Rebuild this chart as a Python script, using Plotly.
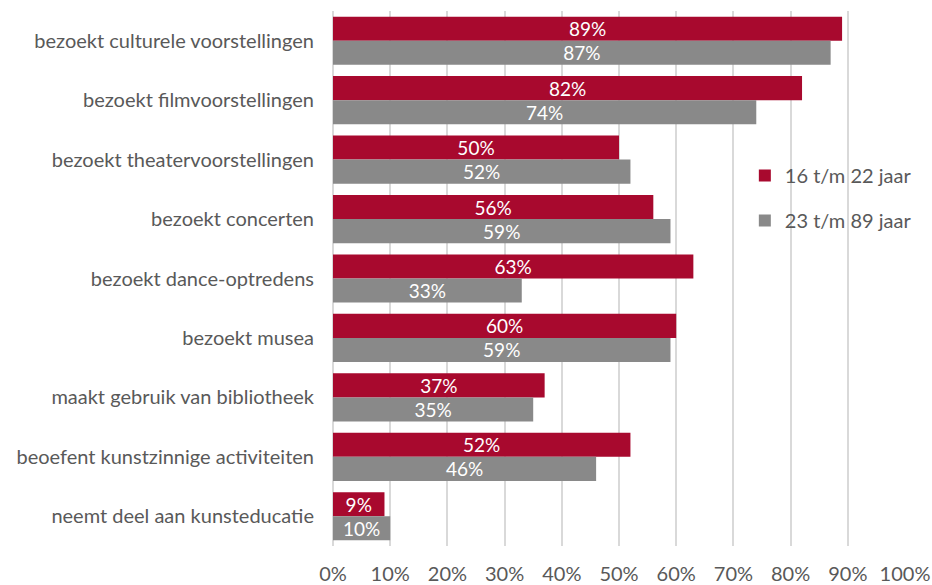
import plotly.graph_objects as go

# categories top to bottom
categories = [
    "bezoekt culturele voorstellingen",
    "bezoekt filmvoorstellingen",
    "bezoekt theatervoorstellingen",
    "bezoekt concerten",
    "bezoekt dance-optredens",
    "bezoekt musea",
    "maakt gebruik van bibliotheek",
    "beoefent kunstzinnige activiteiten",
    "neemt deel aan kunsteducatie",
]
young = [89, 82, 50, 56, 63, 60, 37, 52, 9]
older = [87, 74, 52, 59, 33, 59, 35, 46, 10]
series_names = ["16 t/m 22 jaar", "23 t/m 89 jaar"]
tick_vals = [0, 10, 20, 30, 40, 50, 60, 70, 80, 90, 100]
tick_text = [f"{v}%" for v in tick_vals]

RED = "#A8092E"
GREY = "#898989"
TEXT = "#595959"
FONT = "Lato, 'Source Sans Pro', 'Noto Sans', sans-serif"

fig = go.Figure()
for name, vals, col in [(series_names[0], young, RED), (series_names[1], older, GREY)]:
    fig.add_trace(go.Bar(
        y=categories, x=vals, name=name, orientation="h",
        legendgroup=name,
        marker=dict(color=col, line=dict(width=0)),
        text=[f"{v}%" for v in vals], textposition="inside",
        insidetextanchor="middle", constraintext="none",
        textfont=dict(color="white", size=19, family=FONT),
    ))

fig.update_layout(
    width=932, height=585,
    margin=dict(l=333, r=27, t=11, b=39, autoexpand=False),
    barmode="group", bargap=0.19, bargroupgap=0,
    plot_bgcolor="white", paper_bgcolor="white",
    font=dict(family=FONT, size=20, color=TEXT),
    showlegend=True,
    legend=dict(x=0.72, y=0.729, xanchor="left", yanchor="top",
                bgcolor="rgba(0,0,0,0)", font=dict(size=20, color=TEXT),
                tracegroupgap=16, itemsizing="constant"),
    uniformtext=dict(minsize=10, mode="show"),
)
fig.update_xaxes(range=[0, 100], tickvals=tick_vals, ticktext=tick_text,
                 showgrid=True, gridcolor="#D9D9D9", gridwidth=1.5,
                 zeroline=True, zerolinecolor="#D9D9D9", zerolinewidth=1.5,
                 showline=False, ticks="", ticklabelstandoff=14,
                 tickfont=dict(size=20, color=TEXT))
fig.update_yaxes(autorange="reversed", showgrid=False, showline=False, ticks="",
                 ticklabelstandoff=18, tickfont=dict(size=20, color=TEXT))

fig.write_html("out.html", config={"displayModeBar": False},
               post_script="document.body.style.margin='0';")
